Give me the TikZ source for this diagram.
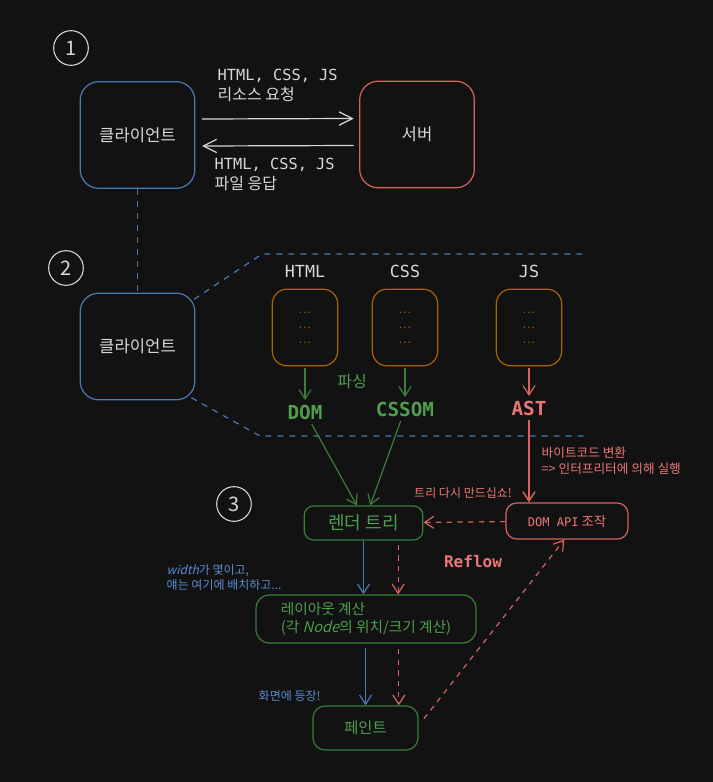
\documentclass[tikz,border=0pt]{standalone}
\usepackage{fontspec}
\setmainfont{Noto Sans CJK KR}
\newfontfamily\monofont{DejaVu Sans Mono}
\newfontfamily\slantfont{Noto Sans CJK KR}[FakeSlant=0.25]
\usetikzlibrary{arrows.meta}
\usetikzlibrary{positioning}
\definecolor{bgcol}{HTML}{121212}
\definecolor{txtgrey}{HTML}{D8D8D8}
\definecolor{clblue}{HTML}{4A79B4}
\definecolor{bluetxt}{HTML}{5B8BD0}
\definecolor{srvred}{HTML}{D8625E}
\definecolor{redtxt}{HTML}{EC7676}
\definecolor{filebrown}{HTML}{A86300}
\definecolor{flowgreen}{HTML}{3B7D3B}
\definecolor{greentxt}{HTML}{4E9E4E}

\begin{document}
\begin{tikzpicture}[x=0.75pt,y=-0.75pt,
  every node/.style={text=txtgrey},
  bigbox/.style={draw,rounded corners=14pt,line width=0.9pt,minimum width=86pt,minimum height=80pt,font=\fontsize{12.5}{15}\selectfont},
  filebox/.style={draw=filebrown,rounded corners=11pt,line width=0.9pt,minimum width=49pt,minimum height=57.5pt,text=filebrown,align=center,font=\monofont\bfseries\fontsize{5.5}{11.25}\selectfont},
  flowbox/.style={draw=flowgreen,rounded corners=7pt,line width=0.9pt,text=greentxt},
  numcircle/.style={draw=txtgrey,circle,line width=0.8pt,minimum size=26pt,inner sep=0pt,font=\fontsize{15}{15}\selectfont},
  msg/.style={align=left,font=\fontsize{12}{15}\selectfont},
  hdr/.style={font=\monofont\fontsize{12.5}{14}\selectfont},
  treelbl/.style={font=\monofont\bfseries\fontsize{14.5}{16}\selectfont},
  note/.style={align=left,font=\fontsize{9.5}{12}\selectfont},
  pointer/.style={-{Straight Barb[length=7pt,width=9pt]},line width=0.9pt},
  dashpointer/.style={pointer,dash pattern=on 4pt off 4pt},
  zone/.style={draw=clblue,line width=0.9pt,dash pattern=on 4.5pt off 4.5pt}
]
\useasboundingbox[fill=bgcol] (0,0) rectangle (713,782);

\node[numcircle] (n1) at (71,48) {1};
\node[bigbox,draw=clblue] (client) at (137.5,135) {클라이언트};
\node[bigbox,draw=srvred] (server) at (417,134.5) {서버};
\draw[pointer,txtgrey,-{Straight Barb[length=10pt,width=10pt]}] ([xshift=5pt,yshift=12pt]client.east) -- ([xshift=-4pt,yshift=12pt]server.west);
\draw[pointer,txtgrey,-{Straight Barb[length=10pt,width=10pt]}] ([xshift=-4pt,yshift=-8.25pt]server.west) -- ([xshift=5pt,yshift=-8.25pt]client.east);
\node[msg,anchor=west] (req) at (213,85) {{\monofont\fontsize{11.5}{15}\selectfont HTML, CSS, JS}\\리소스 요청};
\node[msg,anchor=west] (res) at (210,174) {{\monofont\fontsize{11.5}{15}\selectfont HTML, CSS, JS}\\파일 응답};

\node[numcircle] (n2) at (66,268) {2};
\node[bigbox,draw=clblue] (client2) at (137.5,346.5) {클라이언트};
\draw[zone] (client.south) -- (client2.north);
\coordinate (zt) at (262,254);
\coordinate (zte) at (585,254);
\coordinate (zb) at (260,436);
\coordinate (zbe) at (585,436);
\draw[zone] ([xshift=-1pt,yshift=-5pt]client2.north east) -- (zt) -- (zte);
\draw[zone] ([xshift=-3pt,yshift=2pt]client2.south east) -- (zb) -- (zbe);

\foreach \name/\x/\lbl in {html/305/HTML,css/405/CSS,js/529/JS}{
  \node[filebox] (\name) at (\x,327.5) {...\\...\\...};
  \node[hdr] (\name-hdr) at (\x,271) {\lbl};
}
\node[treelbl,text=greentxt] (dom) at (305,412) {DOM};
\node[treelbl,text=greentxt] (cssom) at (405,409) {CSSOM};
\node[treelbl,text=redtxt] (ast) at (529,408) {AST};
\node[text=greentxt,font=\fontsize{12}{14}\selectfont] (parse) at (352,382) {파싱};
\draw[pointer,flowgreen,shorten <=1pt] (html) -- (dom);
\draw[pointer,flowgreen,shorten <=1pt] (css) -- (cssom);
\draw[pointer,srvred,shorten <=1pt] (js) -- (ast);

\node[numcircle] (n3) at (234,504) {3};
\node[flowbox,minimum width=89pt,minimum height=25.5pt,font=\fontsize{13.5}{15}\selectfont] (render) at (363.5,523) {렌더 트리};
\node[draw=srvred,rounded corners=8pt,line width=0.9pt,minimum width=91.5pt,minimum height=27pt,text=redtxt,font=\fontsize{10}{12}\selectfont] (domapi) at (567,521) {{\monofont\fontsize{9}{12}\selectfont DOM API} 조작};
\draw[pointer,flowgreen] (dom) -- ([xshift=-5pt]render.north);
\draw[pointer,flowgreen] (cssom) -- ([xshift=5pt]render.north);
\draw[pointer,srvred,line width=1.1pt] (ast) -- (ast |- domapi.north);
\node[note,text=redtxt,anchor=west] (bytecode) at (537,461) {바이트코드 변환\\=> 인터프리터에 의해 실행};
\node[note,text=redtxt,font=\fontsize{9}{11}\selectfont] (rebuild) at (463,493) {트리 다시 만드십쇼!};
\draw[dashpointer,srvred] (domapi) -- (render);
\node[text=redtxt,font=\monofont\bfseries\fontsize{12}{14}\selectfont] (reflow) at (473,562) {Reflow};

\node[flowbox,rounded corners=10pt,minimum width=165pt,minimum height=36pt,align=left,font=\fontsize{11}{13.5}\selectfont] (layout) at (366,619) {레이아웃 계산\\(각 {\slantfont Node}의 위치/크기 계산)};
\node[note,text=bluetxt,anchor=west,font=\fontsize{9}{11.25}\selectfont] (width) at (162,578) {{\slantfont width}가 몇이고,\\얘는 여기에 배치하고...};
\draw[pointer,clblue] (render.south) -- (render.south |- layout.north);
\draw[dashpointer,srvred,shorten <=3pt] ([xshift=26pt]render.south) -- ([xshift=26pt]render.south |- layout.north);

\node[flowbox,rounded corners=9pt,minimum width=78.75pt,minimum height=33pt,font=\fontsize{11.5}{14}\selectfont] (paint) at (365.5,728) {페인트};
\node[note,text=bluetxt,anchor=west,font=\fontsize{9}{11}\selectfont] (appear) at (254,696) {화면에 등장!};
\draw[pointer,clblue,shorten <=3pt] (layout.south -| paint.north) -- (paint.north);
\draw[dashpointer,srvred,shorten <=4pt] ([xshift=25pt]paint.north |- layout.south) -- ([xshift=25pt]paint.north);
\draw[dashpointer,srvred] ([xshift=4pt,yshift=7pt]paint.east) -- ([xshift=-2pt]domapi.south);
\end{tikzpicture}
\end{document}
